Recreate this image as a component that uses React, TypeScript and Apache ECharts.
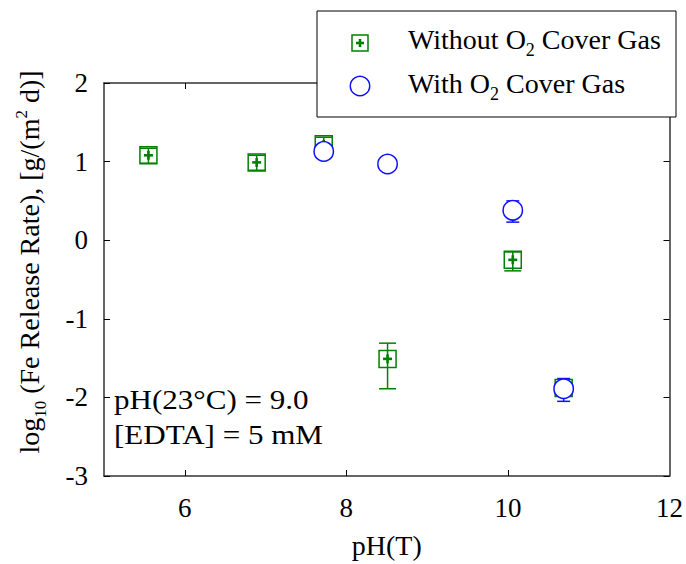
import React, { useEffect, useRef } from 'react';
import * as echarts from 'echarts';

// Without O2 cover gas (green squares)
const phWithout = [5.55, 6.89, 7.72, 8.51, 10.06, 10.69];
const rateWithout = [1.08, 0.99, 1.22, -1.51, -0.25, -1.88];
const lowWithout = [0.98, 0.89, 1.13, -1.89, -0.39, -1.95];
const highWithout = [1.17, 1.08, 1.31, -1.31, -0.15, -1.81];

// With O2 cover gas (blue circles)
const phWith = [7.72, 8.51, 10.06, 10.69];
const rateWith = [1.13, 0.97, 0.38, -1.89];
const lowWith = [1.05, 0.89, 0.23, -2.05];
const highWith = [1.21, 1.05, 0.5, -1.76];

const xLabelValues = [6, 8, 10, 12];
const xTickValues = [6, 8, 10];

const GREEN = '#008000';
const BLUE = '#1010ff';
const FONT = 'Liberation Serif';

export default function App() {
  const ref = useRef<HTMLDivElement>(null);
  useEffect(() => {
    if (!ref.current) return;
    const chart = echarts.init(ref.current, null, { renderer: 'svg' });
    const greenData = phWithout.map((x, i) => [x, rateWithout[i], lowWithout[i], highWithout[i]]);
    const blueData = phWith.map((x, i) => [x, rateWith[i], lowWith[i], highWith[i]]);

    const axisLineStyle = { color: '#333', width: 1.5 };
    const option: any = {
      animation: false,
      backgroundColor: '#fff',
      textStyle: { fontFamily: FONT },
      grid: { left: 104, right: 16, top: 83, bottom: 86 },
      xAxis: [
        {
          type: 'value', min: 5, max: 12, position: 'bottom',
          axisLine: { show: true, onZero: false, lineStyle: axisLineStyle },
          axisTick: { show: true, inside: true, length: 6, customValues: xTickValues, lineStyle: { color: '#000', width: 1 } },
          axisLabel: { customValues: xLabelValues, margin: 18, color: '#000', fontSize: 27, fontFamily: FONT },
          splitLine: { show: false },
          name: 'pH(T)', nameLocation: 'middle', nameGap: 55,
          nameTextStyle: { color: '#000', fontSize: 28, fontFamily: FONT },
        },
        {
          type: 'value', min: 5, max: 12, position: 'top',
          axisLine: { show: true, onZero: false, lineStyle: axisLineStyle },
          axisTick: { show: true, inside: true, length: 6, customValues: xTickValues, lineStyle: { color: '#000', width: 1 } },
          axisLabel: { show: false },
          splitLine: { show: false },
        },
      ],
      yAxis: [
        {
          type: 'value', min: -3, max: 2, interval: 1, position: 'left',
          axisLine: { show: true, onZero: false, lineStyle: axisLineStyle },
          axisTick: { show: true, inside: true, length: 6, lineStyle: { color: '#000', width: 1 } },
          axisLabel: { margin: 16, color: '#000', fontSize: 27, fontFamily: FONT },
          splitLine: { show: false },
        },
        {
          type: 'value', min: -3, max: 2, interval: 1, position: 'right',
          axisLine: { show: true, onZero: false, lineStyle: axisLineStyle },
          axisTick: { show: true, inside: true, length: 6, lineStyle: { color: '#000', width: 1 } },
          axisLabel: { show: false },
          splitLine: { show: false },
        },
      ],
      series: [
        {
          type: 'custom', name: 'Without O2 Cover Gas', xAxisIndex: 0, yAxisIndex: 0,
          data: greenData, encode: { x: 0, y: 1 }, z: 2,
          renderItem: (params: any, api: any) => {
            const c = api.coord([api.value(0), api.value(1)]);
            const cl = api.coord([api.value(0), api.value(2)]);
            const ch = api.coord([api.value(0), api.value(3)]);
            const h = 8.5;
            const ls = { stroke: GREEN, lineWidth: 1.5 };
            return {
              type: 'group',
              children: [
                { type: 'line', shape: { x1: c[0], y1: cl[1], x2: c[0], y2: ch[1] }, style: ls },
                { type: 'line', shape: { x1: c[0] - h, y1: cl[1], x2: c[0] + h, y2: cl[1] }, style: ls },
                { type: 'line', shape: { x1: c[0] - h, y1: ch[1], x2: c[0] + h, y2: ch[1] }, style: ls },
                { type: 'rect', shape: { x: c[0] - h, y: c[1] - h, width: 2 * h, height: 2 * h }, style: { fill: 'none', stroke: GREEN, lineWidth: 1.5 } },
                { type: 'rect', shape: { x: c[0] - 4.5, y: c[1] - 1.3, width: 9, height: 2.6 }, style: { fill: GREEN } },
                { type: 'rect', shape: { x: c[0] - 1.3, y: c[1] - 4.5, width: 2.6, height: 9 }, style: { fill: GREEN } },
              ],
            };
          },
        },
        {
          type: 'custom', name: 'With O2 Cover Gas', xAxisIndex: 0, yAxisIndex: 0,
          data: blueData, encode: { x: 0, y: 1 }, z: 3,
          renderItem: (params: any, api: any) => {
            const c = api.coord([api.value(0), api.value(1)]);
            const cl = api.coord([api.value(0), api.value(2)]);
            const ch = api.coord([api.value(0), api.value(3)]);
            const h = 6.5;
            const ls = { stroke: BLUE, lineWidth: 1.5 };
            return {
              type: 'group',
              children: [
                { type: 'line', shape: { x1: c[0], y1: cl[1], x2: c[0], y2: ch[1] }, style: ls },
                { type: 'line', shape: { x1: c[0] - h, y1: cl[1], x2: c[0] + h, y2: cl[1] }, style: ls },
                { type: 'line', shape: { x1: c[0] - h, y1: ch[1], x2: c[0] + h, y2: ch[1] }, style: ls },
                { type: 'circle', shape: { cx: c[0], cy: c[1], r: 9.7 }, style: { fill: '#fff', stroke: BLUE, lineWidth: 1.5 } },
              ],
            };
          },
        },
      ],
      graphic: [
        // y axis title
        {
          type: 'text', x: 29, y: 262, rotation: Math.PI / 2, z: 50,
          style: {
            text: 'log{sub|10} (Fe Release Rate), [g/(m{sup|2} d)]',
            fill: '#000', fontSize: 28, fontFamily: FONT, lineHeight: 40,
            align: 'center', verticalAlign: 'middle',
            rich: {
              sub: { fontSize: 17, fontFamily: FONT, fill: '#000', verticalAlign: 'bottom', lineHeight: 17 },
              sup: { fontSize: 17, fontFamily: FONT, fill: '#000', verticalAlign: 'top', lineHeight: 17, padding: [4, 0, 0, 0] },
            },
          },
        },
        // annotation
        {
          type: 'text', x: 114, y: 400, z: 50, scaleX: 1.15,
          style: { text: 'pH(23°C) = 9.0', fill: '#000', fontSize: 27, fontFamily: FONT, align: 'left', verticalAlign: 'middle' },
        },
        {
          type: 'text', x: 114, y: 435, z: 50, scaleX: 1.15,
          style: { text: '[EDTA] = 5 mM', fill: '#000', fontSize: 27, fontFamily: FONT, align: 'left', verticalAlign: 'middle' },
        },
        // legend
        {
          type: 'rect', z: 100,
          shape: { x: 317, y: 11, width: 359, height: 106 },
          style: { fill: '#fff', stroke: '#000', lineWidth: 1 },
        },
        {
          type: 'rect', z: 101,
          shape: { x: 352, y: 35, width: 16, height: 16 },
          style: { fill: 'none', stroke: GREEN, lineWidth: 1.5 },
        },
        { type: 'rect', z: 101, shape: { x: 356, y: 41.7, width: 8, height: 2.6 }, style: { fill: GREEN } },
        { type: 'rect', z: 101, shape: { x: 358.7, y: 39, width: 2.6, height: 8 }, style: { fill: GREEN } },
        {
          type: 'circle', z: 101,
          shape: { cx: 360, cy: 86, r: 9.7 },
          style: { fill: '#fff', stroke: BLUE, lineWidth: 1.5 },
        },
        {
          type: 'text', x: 408, y: 39, z: 101,
          style: {
            text: 'Without O{sub|2} Cover Gas', fill: '#000', fontSize: 28, fontFamily: FONT, lineHeight: 40,
            align: 'left', verticalAlign: 'middle',
            rich: { sub: { fontSize: 18, fontFamily: FONT, fill: '#000', verticalAlign: 'bottom', lineHeight: 18 } },
          },
        },
        {
          type: 'text', x: 408, y: 83, z: 101,
          style: {
            text: 'With O{sub|2} Cover Gas', fill: '#000', fontSize: 28, fontFamily: FONT, lineHeight: 40,
            align: 'left', verticalAlign: 'middle',
            rich: { sub: { fontSize: 18, fontFamily: FONT, fill: '#000', verticalAlign: 'bottom', lineHeight: 18 } },
          },
        },
      ],
    };
    chart.setOption(option);
    return () => chart.dispose();
  }, []);
  return <div ref={ref} style={{ position: 'fixed', left: 0, top: 0, width: 686, height: 564, background: '#fff' }} />;
}
